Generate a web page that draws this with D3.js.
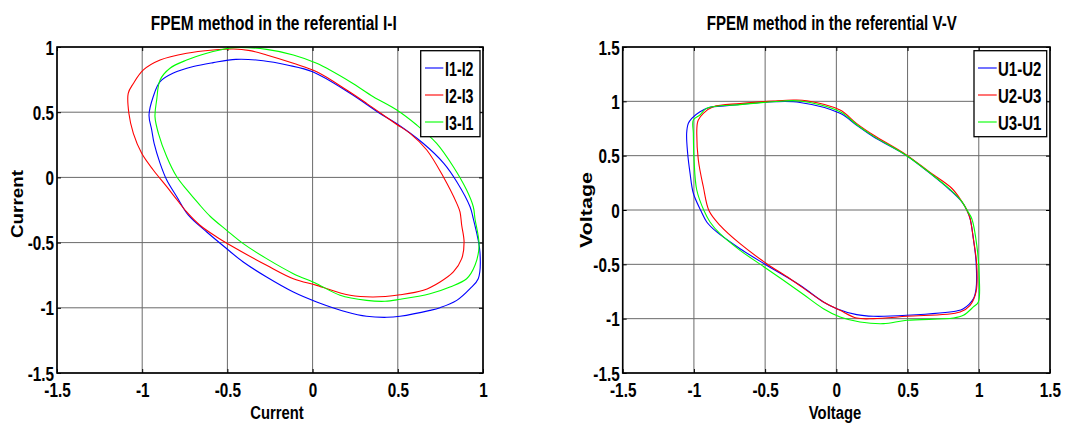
<!DOCTYPE html>
<html><head><meta charset="utf-8">
<script src="https://cdn.jsdelivr.net/npm/d3@7"></script>
<style>
html,body{margin:0;padding:0;background:#fff;}
svg{display:block;}
text{font-family:"Liberation Sans",Arial,Helvetica,sans-serif;font-weight:bold;fill:#000;}
</style></head>
<body>
<svg id="chart" width="1079" height="423"></svg>
<script>
// ---------- data ----------
const titleI = "FPEM method in the referential I-I";
const titleV = "FPEM method in the referential V-V";
const labelI = "Current";
const labelV = "Voltage";
const seriesNamesI = ["I1-I2", "I2-I3", "I3-I1"];
const seriesNamesV = ["U1-U2", "U2-U3", "U3-U1"];
const seriesColors = ["#0000ff", "#ff0000", "#00ff00"];
const xTicksI = [-1.5, -1, -0.5, 0, 0.5, 1];
const yTicksI = [-1.5, -1, -0.5, 0, 0.5, 1];
const xTicksV = [-1.5, -1, -0.5, 0, 0.5, 1, 1.5];
const yTicksV = [-1.5, -1, -0.5, 0, 0.5, 1, 1.5];

const curveI12 = [[-0.45,0.905],[-0.29,0.895],[-0.15,0.862],[0.0,0.81],[0.22,0.645],[0.395,0.49],[0.49,0.415],[0.65,0.26],[0.77,0.108],[0.846,-0.033],[0.924,-0.225],[0.943,-0.317],[0.982,-0.572],[0.972,-0.777],[0.924,-0.853],[0.846,-0.943],[0.748,-0.999],[0.689,-1.02],[0.513,-1.065],[0.435,-1.073],[0.317,-1.065],[0.20,-1.032],[0.024,-0.955],[-0.113,-0.879],[-0.27,-0.764],[-0.407,-0.649],[-0.504,-0.547],[-0.621,-0.419],[-0.729,-0.29],[-0.797,-0.148],[-0.856,-0.02],[-0.895,0.108],[-0.93,0.26],[-0.944,0.363],[-0.96,0.478],[-0.935,0.62],[-0.895,0.734],[-0.817,0.80],[-0.70,0.85],[-0.583,0.88]];
const curveI23 = [[-0.465,0.985],[-0.367,0.972],[-0.27,0.939],[-0.113,0.875],[0.024,0.81],[0.2,0.67],[0.317,0.568],[0.49,0.41],[0.572,0.338],[0.67,0.21],[0.767,0.005],[0.846,-0.199],[0.865,-0.265],[0.875,-0.367],[0.889,-0.495],[0.875,-0.623],[0.826,-0.725],[0.748,-0.802],[0.65,-0.866],[0.513,-0.90],[0.356,-0.917],[0.22,-0.904],[0.024,-0.828],[-0.113,-0.777],[-0.27,-0.674],[-0.465,-0.534],[-0.563,-0.457],[-0.661,-0.367],[-0.739,-0.265],[-0.80,-0.165],[-0.856,-0.071],[-0.935,0.057],[-1.003,0.185],[-1.052,0.338],[-1.078,0.49],[-1.082,0.645],[-1.052,0.72],[-0.993,0.824],[-0.895,0.90],[-0.739,0.952],[-0.583,0.977]];
const curveI31 = [[-0.465,0.995],[-0.27,0.982],[-0.113,0.939],[0.024,0.875],[0.22,0.734],[0.356,0.619],[0.494,0.517],[0.611,0.402],[0.728,0.261],[0.826,0.082],[0.904,-0.097],[0.943,-0.225],[0.953,-0.317],[0.977,-0.521],[0.953,-0.674],[0.904,-0.777],[0.806,-0.84],[0.689,-0.892],[0.513,-0.935],[0.425,-0.95],[0.317,-0.943],[0.161,-0.904],[0.024,-0.815],[-0.113,-0.738],[-0.27,-0.623],[-0.407,-0.508],[-0.504,-0.406],[-0.60,-0.30],[-0.67,-0.20],[-0.735,-0.10],[-0.797,0.005],[-0.856,0.159],[-0.905,0.338],[-0.925,0.466],[-0.915,0.594],[-0.895,0.747],[-0.837,0.837],[-0.739,0.90],[-0.621,0.952],[-0.543,0.977]];

const curveU12 = [[-0.442,0.996],[-0.255,0.99],[0.026,0.89],[0.143,0.78],[0.26,0.674],[0.494,0.50],[0.658,0.337],[0.798,0.184],[0.88,0.077],[0.916,0.0],[0.939,-0.08],[0.962,-0.264],[0.981,-0.478],[0.981,-0.724],[0.962,-0.816],[0.892,-0.908],[0.845,-0.929],[0.494,-0.969],[0.26,-0.978],[0.143,-0.963],[0.003,-0.908],[-0.091,-0.846],[-0.255,-0.693],[-0.489,-0.509],[-0.676,-0.356],[-0.84,-0.202],[-0.91,-0.11],[-0.95,-0.01],[-1.004,0.154],[-1.027,0.337],[-1.044,0.522],[-1.051,0.706],[-1.039,0.798],[-1.015,0.844],[-0.957,0.905],[-0.887,0.945],[-0.77,0.96],[-0.606,0.98]];
const curveU23 = [[-0.442,1.003],[-0.302,1.012],[-0.208,1.006],[0.026,0.92],[0.143,0.795],[0.26,0.69],[0.494,0.505],[0.658,0.345],[0.81,0.2],[0.88,0.08],[0.916,0.0],[0.939,-0.08],[0.962,-0.264],[0.986,-0.509],[0.981,-0.754],[0.939,-0.877],[0.869,-0.938],[0.494,-0.978],[0.26,-1.0],[0.143,-0.994],[0.026,-0.923],[-0.091,-0.846],[-0.325,-0.632],[-0.489,-0.494],[-0.676,-0.31],[-0.817,-0.141],[-0.893,-0.01],[-0.934,0.214],[-0.969,0.46],[-0.98,0.706],[-0.976,0.798],[-0.969,0.828],[-0.934,0.89],[-0.864,0.95],[-0.676,0.98]];
const curveU31 = [[-0.442,0.996],[-0.255,1.003],[0.026,0.905],[0.143,0.785],[0.26,0.68],[0.494,0.50],[0.658,0.34],[0.798,0.19],[0.88,0.08],[0.916,0.0],[0.951,-0.08],[0.986,-0.325],[1.004,-0.632],[0.997,-0.846],[0.962,-0.892],[0.892,-0.969],[0.822,-0.994],[0.494,-1.015],[0.33,-1.046],[0.166,-1.03],[0.026,-0.984],[-0.091,-0.908],[-0.255,-0.754],[-0.489,-0.54],[-0.676,-0.371],[-0.817,-0.218],[-0.887,-0.11],[-0.928,-0.01],[-0.98,0.184],[-0.999,0.46],[-1.004,0.706],[-1.004,0.828],[-0.957,0.874],[-0.91,0.936],[-0.676,0.97]];

// ---------- drawing ----------
const svg = d3.select("#chart");
const FS = 21, SX = 0.73;       // titles / legend
const TFS = 20, TSX = 0.765;    // tick labels

function panel(cfg) {
  const {x0, x1, y0, y1, xDom, yDom, xTicks, yTicks, curves, names, title, titleX, titleW,
         xlab, xlabX, ylab, ylabX, ylabY, ylabW, leg} = cfg;
  const x = d3.scaleLinear().domain(xDom).range([x0, x1]);
  const y = d3.scaleLinear().domain(yDom).range([y1, y0]);
  const g = svg.append("g");

  // grid
  g.append("g").selectAll("line").data(xTicks).join("line")
    .attr("x1", d => x(d)).attr("x2", d => x(d)).attr("y1", y0).attr("y2", y1)
    .attr("stroke", "#6a6a6a").attr("stroke-width", 1);
  g.append("g").selectAll("line").data(yTicks).join("line")
    .attr("y1", d => y(d)).attr("y2", d => y(d)).attr("x1", x0).attr("x2", x1)
    .attr("stroke", "#6a6a6a").attr("stroke-width", 1);

  // inward ticks (all four sides)
  const axB = d3.axisBottom(x).tickValues(xTicks).tickSizeInner(-4).tickSizeOuter(0).tickFormat(d => String(d));
  const axT = d3.axisTop(x).tickValues(xTicks).tickSizeInner(-4).tickSizeOuter(0).tickFormat("");
  const axL = d3.axisLeft(y).tickValues(yTicks).tickSizeInner(-4).tickSizeOuter(0).tickFormat(d => String(d));
  const axR = d3.axisRight(y).tickValues(yTicks).tickSizeInner(-4).tickSizeOuter(0).tickFormat("");

  const gb = g.append("g").attr("transform", `translate(0,${y1})`).call(axB);
  const gt = g.append("g").attr("transform", `translate(0,${y0})`).call(axT);
  const gl = g.append("g").attr("transform", `translate(${x0},0)`).call(axL);
  const gr = g.append("g").attr("transform", `translate(${x1},0)`).call(axR);
  [gb, gt, gl, gr].forEach(a => {
    a.select(".domain").remove();
    a.selectAll(".tick line").attr("stroke", "#000").attr("stroke-width", 1);
    a.attr("font-family", null).attr("font-size", null);
  });
  gb.selectAll(".tick text").attr("y", 24).attr("dy", null)
    .attr("font-size", TFS).attr("transform", `scale(${TSX},1)`).attr("text-anchor", "middle");
  gl.selectAll(".tick text").attr("x", -3 / TSX).attr("dy", "0.35em")
    .attr("font-size", TFS).attr("transform", `scale(${TSX},1)`).attr("text-anchor", "end");

  // curves
  const line = d3.line().x(d => x(d[0])).y(d => y(d[1])).curve(d3.curveCatmullRomClosed.alpha(0.5));
  const cg = g.append("g");
  curves.forEach((c, i) => {
    cg.append("path").attr("d", line(c)).attr("fill", "none")
      .attr("stroke", seriesColors[i]).attr("stroke-width", 1.1);
  });

  // box
  g.append("rect").attr("x", x0).attr("y", y0).attr("width", x1 - x0).attr("height", y1 - y0)
    .attr("fill", "none").attr("stroke", "#000").attr("stroke-width", 1.6);

  // title & labels
  g.append("text").attr("x", titleX).attr("y", 29.5).attr("text-anchor", "middle")
    .attr("font-size", FS).attr("textLength", titleW).attr("lengthAdjust", "spacingAndGlyphs").text(title);
  g.append("text").attr("transform", `translate(${xlabX},418.8) scale(0.78,1)`).attr("text-anchor", "middle")
    .attr("font-size", 19).text(xlab);
  g.append("text").attr("transform", `translate(${ylabX},${ylabY}) rotate(-90)`).attr("text-anchor", "middle")
    .attr("font-size", 16).attr("textLength", ylabW).attr("lengthAdjust", "spacingAndGlyphs").text(ylab);

  // legend
  const lg = g.append("g");
  lg.append("rect").attr("x", leg.x0).attr("y", 50.7).attr("width", leg.x1 - leg.x0).attr("height", 86)
    .attr("fill", "#fff").attr("stroke", "#000").attr("stroke-width", 1.3);
  names.forEach((n, i) => {
    const ry = 68 + i * 27;
    lg.append("line").attr("x1", leg.lx0).attr("x2", leg.lx1).attr("y1", ry).attr("y2", ry)
      .attr("stroke", seriesColors[i]).attr("stroke-width", 1.1);
    lg.append("text").attr("transform", `translate(${leg.tx},${ry + 7.5}) scale(${SX * leg.k},1)`)
      .attr("font-size", FS).text(n);
  });
}

panel({x0: 57, x1: 483, y0: 47, y1: 373, xDom: [-1.5, 1], yDom: [-1.5, 1],
  xTicks: xTicksI, yTicks: yTicksI, curves: [curveI12, curveI23, curveI31], names: seriesNamesI,
  title: titleI, titleX: 273.7, titleW: 246, xlab: labelI, xlabX: 277,
  ylab: labelI, ylabX: 22.5, ylabY: 204, ylabW: 68,
  leg: {x0: 420.7, x1: 480, lx0: 425, lx1: 443.3, tx: 445, k: 0.93}});

panel({x0: 622.7, x1: 1050, y0: 47, y1: 373, xDom: [-1.5, 1.5], yDom: [-1.5, 1.5],
  xTicks: xTicksV, yTicks: yTicksV, curves: [curveU12, curveU23, curveU31], names: seriesNamesV,
  title: titleV, titleX: 831.7, titleW: 250, xlab: labelV, xlabX: 835,
  ylab: labelV, ylabX: 592, ylabY: 210, ylabW: 76,
  leg: {x0: 974, x1: 1046.7, lx0: 978, lx1: 996.7, tx: 998, k: 0.98}});
</script>
</body></html>
